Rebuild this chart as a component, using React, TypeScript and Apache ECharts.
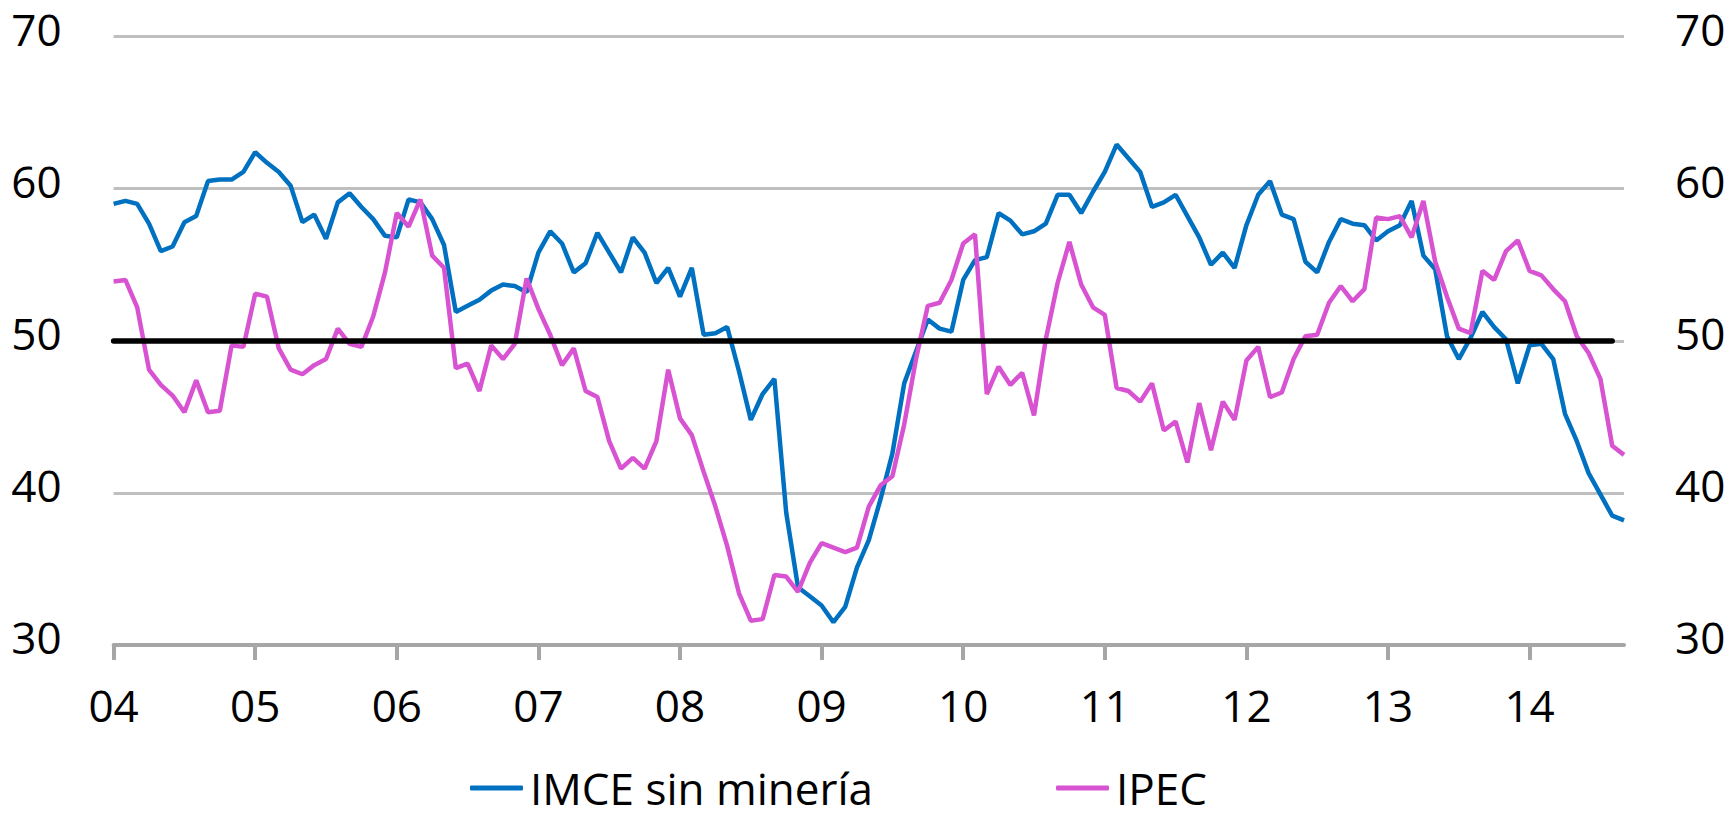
import React, { useEffect, useRef } from "react";
import * as echarts from "echarts";

const years = ["04", "05", "06", "07", "08", "09", "10", "11", "12", "13", "14"];
const months = ["01", "02", "03", "04", "05", "06", "07", "08", "09", "10", "11", "12"];

const imce = [
  59.0, 59.2, 59.0, 57.7, 55.9, 56.2, 57.8, 58.2, 60.5, 60.6, 60.6, 61.1,
  62.4, 61.7, 61.1, 60.2, 57.8, 58.3, 56.7, 59.1, 59.7, 58.8, 58.0, 56.9,
  56.8, 59.3, 59.1, 58.0, 56.3, 51.9, 52.3, 52.7, 53.3, 53.7, 53.6, 53.2,
  55.8, 57.2, 56.4, 54.5, 55.1, 57.1, 55.8, 54.5, 56.8, 55.8, 53.8, 54.8,
  52.9, 54.8, 50.4, 50.5, 50.9, 48.0, 44.8, 46.5, 47.5, 38.7, 33.8, 33.2,
  32.6, 31.5, 32.5, 35.1, 36.9, 39.6, 42.6, 47.2, 49.3, 51.4, 50.8, 50.6,
  54.0, 55.3, 55.5, 58.4, 57.9, 57.0, 57.2, 57.7, 59.6, 59.6, 58.4, 59.8,
  61.1, 62.9, 62.0, 61.1, 58.8, 59.1, 59.6, 58.2, 56.8, 55.0, 55.8, 54.8,
  57.6, 59.6, 60.5, 58.3, 58.0, 55.2, 54.5, 56.5, 58.0, 57.7, 57.6, 56.6,
  57.2, 57.6, 59.2, 55.6, 54.7, 50.3, 48.8, 50.2, 51.9, 50.9, 50.1, 47.2,
  49.7, 49.8, 48.8, 45.2, 43.4, 41.3, 39.9, 38.5, 38.2,
];

const ipec = [
  53.9, 54.0, 52.2, 48.1, 47.1, 46.4, 45.3, 47.4, 45.3, 45.4, 49.7, 49.6,
  53.1, 52.9, 49.5, 48.1, 47.8, 48.4, 48.8, 50.8, 49.8, 49.6, 51.6, 54.5,
  58.4, 57.5, 59.3, 55.6, 54.8, 48.2, 48.5, 46.7, 49.7, 48.8, 49.8, 54.1,
  52.1, 50.4, 48.4, 49.5, 46.7, 46.3, 43.4, 41.6, 42.3, 41.6, 43.4, 48.1,
  44.9, 43.8, 41.4, 39.1, 36.5, 33.4, 31.6, 31.7, 34.6, 34.5, 33.5, 35.4,
  36.7, 36.4, 36.1, 36.4, 39.1, 40.5, 41.1, 44.5, 48.8, 52.3, 52.5, 54.0,
  56.4, 57.0, 46.5, 48.3, 47.1, 47.9, 45.1, 50.1, 53.8, 56.5, 53.7, 52.2,
  51.7, 46.9, 46.7, 46.0, 47.2, 44.1, 44.7, 42.0, 45.9, 42.8, 46.0, 44.8,
  48.7, 49.6, 46.3, 46.6, 48.8, 50.3, 50.4, 52.5, 53.6, 52.6, 53.4, 58.1,
  58.0, 58.2, 56.8, 59.2, 55.2, 52.9, 50.8, 50.5, 54.6, 54.0, 55.9, 56.6,
  54.6, 54.3, 53.4, 52.6, 50.3, 49.2, 47.5, 43.1, 42.5,
];

const refLevel = 50;
const refEndIndex = 127;

const categories = years
  .flatMap((y) => months.map((m) => `${m}/${y}`))
  .slice(0, imce.length);

const FONT = "'Open Sans', sans-serif";

export default function App() {
  const ref = useRef<HTMLDivElement>(null);

  useEffect(() => {
    if (!ref.current) return;
    const chart = echarts.init(ref.current, null, { renderer: "svg" });
    const yAxisCommon = {
      type: "value",
      min: 30,
      max: 70,
      interval: 10,
      axisLine: { show: false },
      axisTick: { show: false },
    };
    const yLabel = {
      fontFamily: FONT,
      fontSize: 44,
      color: "#000",
      verticalAlign: "bottom",
      lineHeight: 16,
    };
    chart.setOption({
      animation: false,
      backgroundColor: "#ffffff",
      grid: { left: 113.6, right: 105, top: 36.6, bottom: 175, containLabel: false },
      legend: {
        data: ["IMCE sin minería", "IPEC"],
        left: 465,
        top: 761,
        icon: "roundRect",
        itemWidth: 53,
        itemHeight: 5,
        itemGap: 183,
        textStyle: {
          fontFamily: FONT,
          fontSize: 44,
          lineHeight: 42,
          color: "#000",
          padding: [0, 0, 0, 2],
        },
      },
      xAxis: {
        type: "category",
        data: categories,
        boundaryGap: false,
        axisLine: { show: true, lineStyle: { color: "#A6A6A6", width: 4 } },
        axisTick: { show: true, interval: 11, length: 15, lineStyle: { color: "#A6A6A6", width: 4 } },
        axisLabel: {
          interval: 11,
          margin: 38,
          fontFamily: FONT,
          fontSize: 44,
          color: "#000",
          formatter: (v: string) => v.split("/")[1],
        },
        splitLine: { show: false },
      },
      yAxis: [
        {
          ...yAxisCommon,
          position: "left",
          splitLine: { show: true, lineStyle: { color: "#BFBFBF", width: 3 } },
          axisLabel: { ...yLabel, margin: 52 },
        },
        {
          ...yAxisCommon,
          position: "right",
          splitLine: { show: false },
          axisLabel: { ...yLabel, margin: 51 },
        },
      ],
      series: [
        {
          name: "IMCE sin minería",
          type: "line",
          data: imce,
          symbol: "none",
          lineStyle: { color: "#0070C0", width: 4.5 },
          itemStyle: { color: "#0070C0" },
          z: 2,
        },
        {
          name: "IPEC",
          type: "line",
          data: ipec,
          symbol: "none",
          lineStyle: { color: "#D853D2", width: 4.5 },
          itemStyle: { color: "#D853D2" },
          z: 3,
          markLine: {
            silent: true,
            symbol: ["none", "none"],
            label: { show: false },
            lineStyle: { color: "#000000", width: 5.5, type: "solid", cap: "round" },
            emphasis: { disabled: true },
            z: 10,
            data: [
              [
                { coord: [categories[0], refLevel] },
                { coord: [categories[refEndIndex], refLevel] },
              ],
            ],
          },
        },
      ],
    });
    return () => chart.dispose();
  }, []);

  return (
    <div
      ref={ref}
      style={{ position: "fixed", left: 0, top: 0, width: 1729, height: 820 }}
    />
  );
}
